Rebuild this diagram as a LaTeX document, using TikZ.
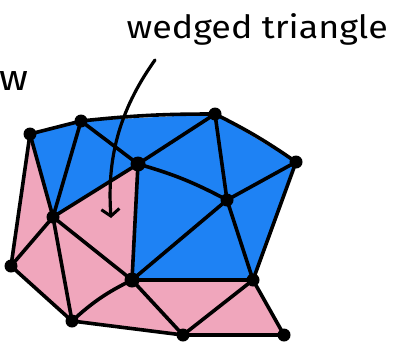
\documentclass[tikz,border=0pt]{standalone}
\usepackage{fontspec}
\setmainfont{Fira Sans}
\usetikzlibrary{arrows.meta}
\definecolor{meshblue}{RGB}{30,130,244}
\definecolor{meshpink}{RGB}{240,166,188}
\tikzset{
  edge/.style={line width=3.6pt, line cap=round, line join=round},
  vert/.style={circle, fill=black, inner sep=0pt, minimum size=13pt},
  bigvert/.style={circle, fill=black, inner sep=0pt, minimum size=15pt},
  pointer/.style={line width=3.2pt, line cap=round, -{Straight Barb[length=7pt,width=18pt,line width=3pt]}},
  label/.style={font=\fontsize{32}{34}\selectfont, xscale=1.12, inner sep=0pt}
}
\begin{document}
\begin{tikzpicture}[x=1pt,y=-1pt]
\useasboundingbox (0,0) rectangle (395,343);
% vertices
\coordinate (A) at (30,134);
\coordinate (B) at (81,121);
\coordinate (C) at (138,164);
\coordinate (D) at (215,114);
\coordinate (E) at (296,162);
\coordinate (F) at (227,200);
\coordinate (G) at (53,217);
\coordinate (H) at (11,266);
\coordinate (I) at (132,280);
\coordinate (J) at (253,280);
\coordinate (K) at (72,321);
\coordinate (L) at (183,335);
\coordinate (M) at (284,335);
% fills
\fill[meshblue] (A) -- (B) -- (D) -- (E) -- (J) -- (I) -- (C) -- (G) -- cycle;
\fill[meshpink] (A) -- (G) -- (C) -- (I) -- (J) -- (M) -- (L) -- (K) -- (H) -- cycle;
% edges
\draw[edge] (A) -- (B) to[bend left=3] (D) to[bend left=4] (E) -- (J) -- (M) -- (L) -- (K) -- (H) -- (A);
\draw[edge] (A) -- (G);
\draw[edge] (B) -- (G);
\draw[edge] (B) -- (C);
\draw[edge] (G) -- (C);
\draw[edge] (C) -- (D);
\draw[edge] (C) to[bend left=6] (F);
\draw[edge] (D) -- (F);
\draw[edge] (E) -- (F);
\draw[edge] (C) -- (I);
\draw[edge] (F) -- (I);
\draw[edge] (F) -- (J);
\draw[edge] (I) -- (J);
\draw[edge] (G) -- (H);
\draw[edge] (G) -- (I);
\draw[edge] (G) -- (K);
\draw[edge] (K) to[bend left=8] (I);
\draw[edge] (I) -- (L);
\draw[edge] (L) -- (J);
% vertex dots
\foreach \v in {A,B,D,E,F,G,H,J,K,L,M} \node[vert] (n\v) at (\v) {};
\node[bigvert] (nC) at (C) {};
\node[bigvert] (nI) at (I) {};
% labels
\node[label, anchor=base east] (title) at (388,38) {wedged triangle};
\node[label, font=\fontsize{36}{38}\selectfont, anchor=base east] (cut) at (29,90) {w};
% pointer
\coordinate (ps) at (155,60);
\coordinate (pe) at (111,218);
\draw[pointer] (ps) .. controls (118,112) and (107,160) .. (pe);
\end{tikzpicture}
\end{document}
